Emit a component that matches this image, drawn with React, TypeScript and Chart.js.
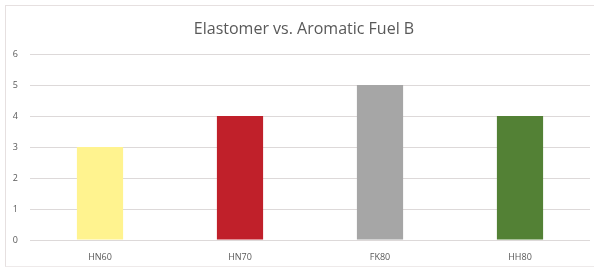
import React, { useEffect, useRef } from "react";
import { Chart, registerables } from "chart.js";

Chart.register(...registerables);

const categories = ["HN60", "HN70", "FK80", "HH80"];
const values = [3, 4, 5, 4];
const barColors = ["#FFF38F", "#C0202A", "#A6A6A6", "#538135"];
const titleText = "Elastomer vs. Aromatic Fuel B";
const yTicks = [0, 1, 2, 3, 4, 5, 6];

const titlePlugin = {
  id: "customTitle",
  afterDraw(chart: any) {
    const c = chart.ctx;
    c.save();
    c.fillStyle = "#595959";
    c.font = "16px 'Open Sans'";
    c.textAlign = "center";
    c.textBaseline = "middle";
    c.fillText(titleText, 304, 29);
    c.restore();
  },
};

export default function App() {
  const ref = useRef<HTMLCanvasElement | null>(null);

  useEffect(() => {
    document.body.style.margin = "0";
    const ctx = ref.current!.getContext("2d")!;
    const chart = new Chart(ctx, {
      type: "bar",
      data: {
        labels: categories,
        datasets: [
          {
            data: values,
            backgroundColor: barColors,
            borderWidth: 0,
            barPercentage: 0.33,
            categoryPercentage: 1,
          },
        ],
      },
      plugins: [titlePlugin],
      options: {
        animation: false,
        responsive: false,
        maintainAspectRatio: false,
        layout: { padding: { left: 0, right: 4, top: 54, bottom: 0 } },
        plugins: {
          legend: { display: false },
          tooltip: { enabled: false },
          title: { display: false },
        },
        scales: {
          x: {
            grid: { display: false },
            border: { display: false },
            ticks: {
              color: "#595959",
              font: { family: "'Open Sans'", size: 9 },
              padding: 4,
            },
            afterFit: (s: any) => {
              s.height = 27;
            },
          },
          y: {
            min: 0,
            max: 6,
            afterBuildTicks: (s: any) => {
              s.ticks = yTicks.map((v) => ({ value: v }));
            },
            grid: { color: "#DDD9D9", lineWidth: 1, drawTicks: false },
            border: { display: false },
            ticks: {
              color: "#595959",
              font: { family: "'Open Sans'", size: 9 },
              padding: 12,
            },
            afterFit: (s: any) => {
              s.width = 30;
            },
          },
        },
      },
    });
    return () => chart.destroy();
  }, []);

  return (
    <div style={{ position: "absolute", left: 0, top: 0, width: 594, height: 267, background: "#fff" }}>
      <canvas ref={ref} width={594} height={267} style={{ display: "block" }} />
      <div
        style={{
          position: "absolute",
          left: 5,
          top: 5,
          width: 590,
          height: 260,
          borderLeft: "1px solid #E6E0E0",
          borderTop: "1px solid #E6E0E0",
          borderBottom: "1px solid #EEEAEA",
          pointerEvents: "none",
        }}
      />
    </div>
  );
}
